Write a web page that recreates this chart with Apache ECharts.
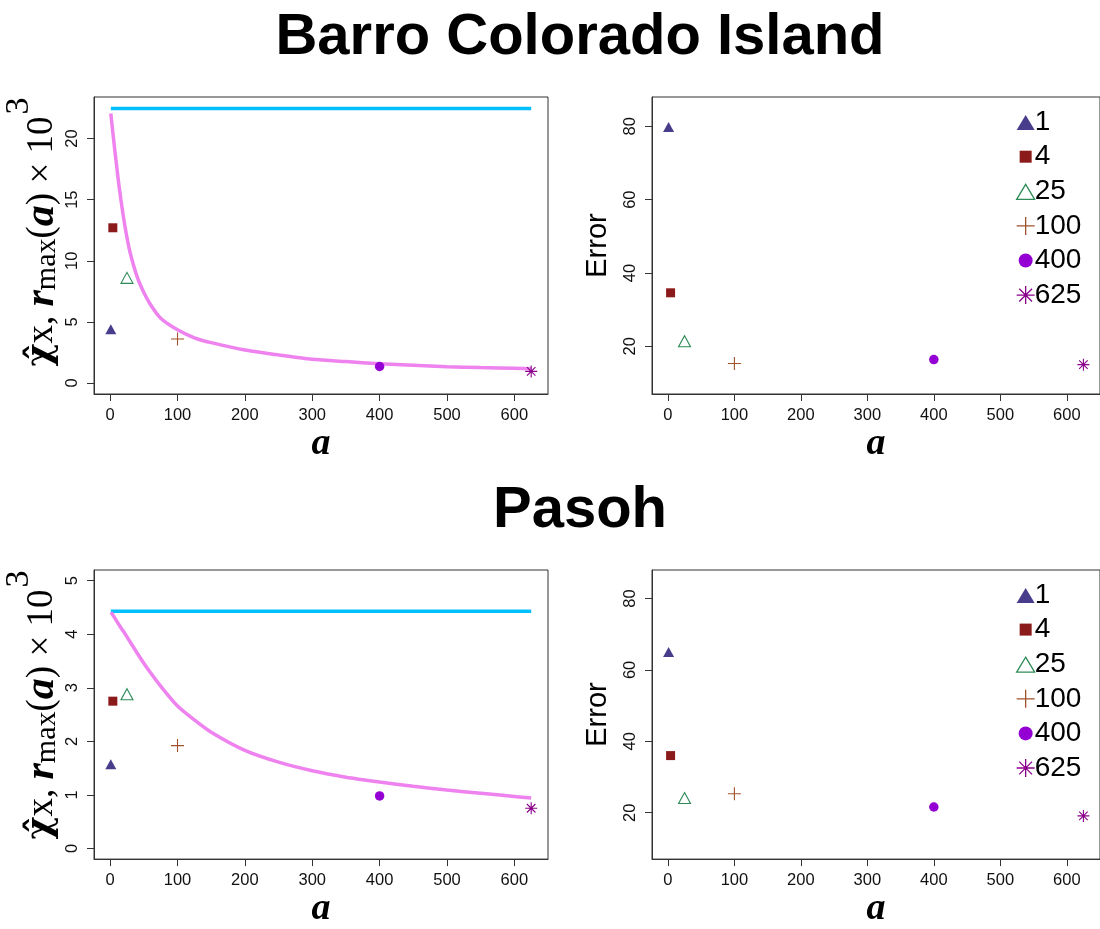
<!DOCTYPE html>
<html><head><meta charset="utf-8">
<script src="https://cdn.jsdelivr.net/npm/echarts@6/dist/echarts.min.js"></script>
<style>html,body{margin:0;padding:0;background:#fff;overflow:hidden}#c{width:1100px;height:929px}</style>
</head><body><div id="c"></div>
<script>
// ---------------- data ----------------
const panelTitles = ['Barro Colorado Island', 'Pasoh'];
const blockSizes = [1, 4, 25, 100, 400, 625];
const blockNames = ['1', '4', '25', '100', '400', '625'];
const bciChi = [4.4, 12.7, 8.6, 3.6, 1.35, 0.95];
const bciError = [79.8, 34.6, 21.4, 15.3, 16.4, 15.0];
const pasohChi = [1.57, 2.75, 2.88, 1.92, 0.98, 0.75];
const pasohError = [65.0, 36.0, 24.1, 25.3, 21.6, 19.1];
const curveA = [1, 3, 5, 7, 10, 13, 16, 20, 25, 30, 40, 50, 60, 75, 100, 125, 150, 200, 250, 300, 350, 400, 450, 500, 550, 600, 625];
const bciRmax = [22.05, 21.0, 20.0, 19.0, 17.6, 16.2, 15.0, 13.5, 11.9, 10.6, 8.7, 7.4, 6.4, 5.3, 4.35, 3.7, 3.3, 2.7, 2.3, 1.95, 1.75, 1.57, 1.45, 1.33, 1.26, 1.2, 1.17];
const pasohRmax = [4.41, 4.38, 4.34, 4.30, 4.24, 4.18, 4.12, 4.05, 3.95, 3.85, 3.65, 3.46, 3.28, 3.03, 2.66, 2.40, 2.17, 1.83, 1.61, 1.45, 1.33, 1.24, 1.16, 1.09, 1.03, 0.97, 0.94];
const lineA = [1, 625];
const bciChiLine = [22.45, 22.45];
const pasohChiLine = [4.43, 4.43];
const xTicks = [0, 100, 200, 300, 400, 500, 600];
const bciChiTicks = [0, 5, 10, 15, 20];
const pasohChiTicks = [0, 1, 2, 3, 4, 5];
const errorTicks = [20, 40, 60, 80];

// ---------------- styles ----------------
const STAR = 'path://M5,0L5,10M0,5L10,5M1.46,1.46L8.54,8.54M8.54,1.46L1.46,8.54';
const PLUS = 'path://M5,0L5,10M0,5L10,5';
const markers = [
  {symbol: 'triangle', size: [11, 10], color: '#483D8B', fill: true},
  {symbol: 'rect', size: 9, color: '#8B1A1A', fill: true},
  {symbol: 'triangle', size: [12, 11], color: '#2E8B57', fill: false},
  {symbol: PLUS, size: 13, color: '#A0522D', fill: false},
  {symbol: 'circle', size: 9.5, color: '#9400D3', fill: true},
  {symbol: STAR, size: 12, color: '#8B008B', fill: false}
];
const legendIcons = [
  'path://M0,0M20,20M10,3L19,18L1,18Z',
  'path://M0,0M20,20M4,4L16,4L16,16L4,16Z',
  'path://M0,0M20,20M10,3L19,18L1,18Z',
  'path://M0,0M20,20M10,1L10,19M1,10L19,10',
  'path://M0,0M20,20M3,10A7,7 0 1,1 17,10A7,7 0 1,1 3,10Z',
  'path://M0,0M20,20M10,1L10,19M1,10L19,10M3.6,3.6L16.4,16.4M16.4,3.6L3.6,16.4'
];

const X_MIN = -23.96, X_MAX = 649.96;
const grids = [
  {left: 94, top: 97, width: 454, height: 297},
  {left: 652, top: 97, width: 454, height: 297},
  {left: 94, top: 570, width: 454, height: 296},
  {left: 652, top: 570, width: 454, height: 296}
];
const tickFont = {fontSize: 16.5, fontFamily: 'Liberation Sans', color: '#111'};

function xAxis(gi) {
  return {
    type: 'value', gridIndex: gi, min: X_MIN, max: X_MAX,
    axisLine: {show: true, onZero: false, lineStyle: {color: '#333', width: 1}},
    splitLine: {show: false},
    axisTick: {show: true, customValues: xTicks, length: 7, lineStyle: {color: '#333'}},
    axisLabel: Object.assign({customValues: xTicks, margin: 13}, tickFont),
    name: 'a', nameLocation: 'middle', nameGap: 24,
    nameTextStyle: {fontFamily: 'Liberation Serif', fontStyle: 'italic', fontWeight: 'bold', fontSize: 38, color: '#000'}
  };
}
function yAxis(gi, min, max, ticks, name) {
  const ax = {
    type: 'value', gridIndex: gi, min, max,
    axisLine: {show: true, onZero: false, lineStyle: {color: '#333', width: 1}},
    splitLine: {show: false},
    axisTick: {show: true, customValues: ticks, length: 7, lineStyle: {color: '#333'}},
    axisLabel: Object.assign({customValues: ticks, margin: 13, rotate: 90}, tickFont)
  };
  if (name) {
    Object.assign(ax, {name, nameLocation: 'middle', nameRotate: 90, nameGap: 40,
      nameTextStyle: {fontFamily: 'Liberation Sans', fontSize: 29, color: '#000'}});
  }
  return ax;
}

const series = [];
function addLines(gi, rmax, chiLine) {
  series.push({type: 'line', xAxisIndex: gi, yAxisIndex: gi, showSymbol: false, smooth: false, z: 2,
    data: lineA.map((a, i) => [a, chiLine[i]]), lineStyle: {color: '#00BFFF', width: 3.5}, silent: true});
  series.push({type: 'line', xAxisIndex: gi, yAxisIndex: gi, showSymbol: false, smooth: 0.25, z: 2,
    data: curveA.map((a, i) => [a, rmax[i]]), lineStyle: {color: '#EE82EE', width: 3.5}, silent: true});
}
function addPoints(gi, vals) {
  blockSizes.forEach((a, i) => {
    const m = markers[i];
    series.push({
      type: 'scatter', name: blockNames[i], xAxisIndex: gi, yAxisIndex: gi, z: 3,
      symbol: m.symbol, symbolSize: m.size, data: [[a, vals[i]]],
      itemStyle: m.fill ? {color: m.color, opacity: 1}
        : {color: 'rgba(0,0,0,0)', borderColor: m.color, borderWidth: 1.1, opacity: 1},
      silent: true
    });
  });
}
addLines(0, bciRmax, bciChiLine);
addPoints(0, bciChi);
addPoints(1, bciError);
addLines(2, pasohRmax, pasohChiLine);
addPoints(2, pasohChi);
addPoints(3, pasohError);

function legend(top) {
  return {
    orient: 'vertical', left: 1015, top, padding: 0, itemGap: 0, itemWidth: 20, itemHeight: 20,
    selectedMode: false,
    textStyle: {fontSize: 28, fontFamily: 'Liberation Sans', color: '#000', lineHeight: 34.6, padding: [0, 0, 0, -6]},
    data: blockNames.map((n, i) => ({
      name: n, icon: legendIcons[i],
      itemStyle: markers[i].fill ? {color: markers[i].color, borderWidth: 0, opacity: 1}
        : {color: 'rgba(0,0,0,0)', borderColor: markers[i].color, borderWidth: 1.3, opacity: 1}
    }))
  };
}

function mathLabel(x, y) {
  return {
    type: 'text', x, y, rotation: Math.PI / 2, silent: true,
    style: {
      text: '{c|\u03C7\u0302}{m|x, }{r|r}{s|max}{m|(}{r|a}{m|) \u00D7 10}{p|3}',
      textAlign: 'center', textVerticalAlign: 'middle', fill: '#000',
      rich: {
        c: {fontFamily: 'DejaVu Serif', fontWeight: 'bold', fontSize: 35, fill: '#000'},
        m: {fontFamily: 'Liberation Serif', fontSize: 37, fill: '#000'},
        r: {fontFamily: 'Liberation Serif', fontStyle: 'italic', fontWeight: 'bold', fontSize: 42, fill: '#000'},
        s: {fontFamily: 'Liberation Serif', fontSize: 30, padding: [10, 0, 0, 0], fill: '#000'},
        p: {fontFamily: 'Liberation Serif', fontSize: 34, padding: [0, 0, 46, 2], fill: '#000'}
      }
    }
  };
}
function title(text, y) {
  return {type: 'text', x: 580, y, silent: true,
    style: {text, textAlign: 'center', textVerticalAlign: 'middle', fontFamily: 'Liberation Sans',
      fontWeight: 'bold', fontSize: 58, fill: '#000'}};
}

const chart = echarts.init(document.getElementById('c'), null, {renderer: 'canvas'});
chart.setOption({
  animation: false,
  backgroundColor: '#fff',
  grid: grids.map(g => Object.assign({show: true, borderColor: '#333', borderWidth: 1, backgroundColor: '#fff'}, g)),
  xAxis: [xAxis(0), xAxis(1), xAxis(2), xAxis(3)],
  yAxis: [
    yAxis(0, -0.9, 23.4, bciChiTicks),
    yAxis(1, 7, 88, errorTicks, 'Error'),
    yAxis(2, -0.2, 5.2, pasohChiTicks),
    yAxis(3, 7, 88, errorTicks, 'Error')
  ],
  legend: [legend(104.8), legend(577.7)],
  series,
  graphic: [title(panelTitles[0], 38), title(panelTitles[1], 511), mathLabel(42, 232), mathLabel(42, 705)]
});
</script></body></html>
